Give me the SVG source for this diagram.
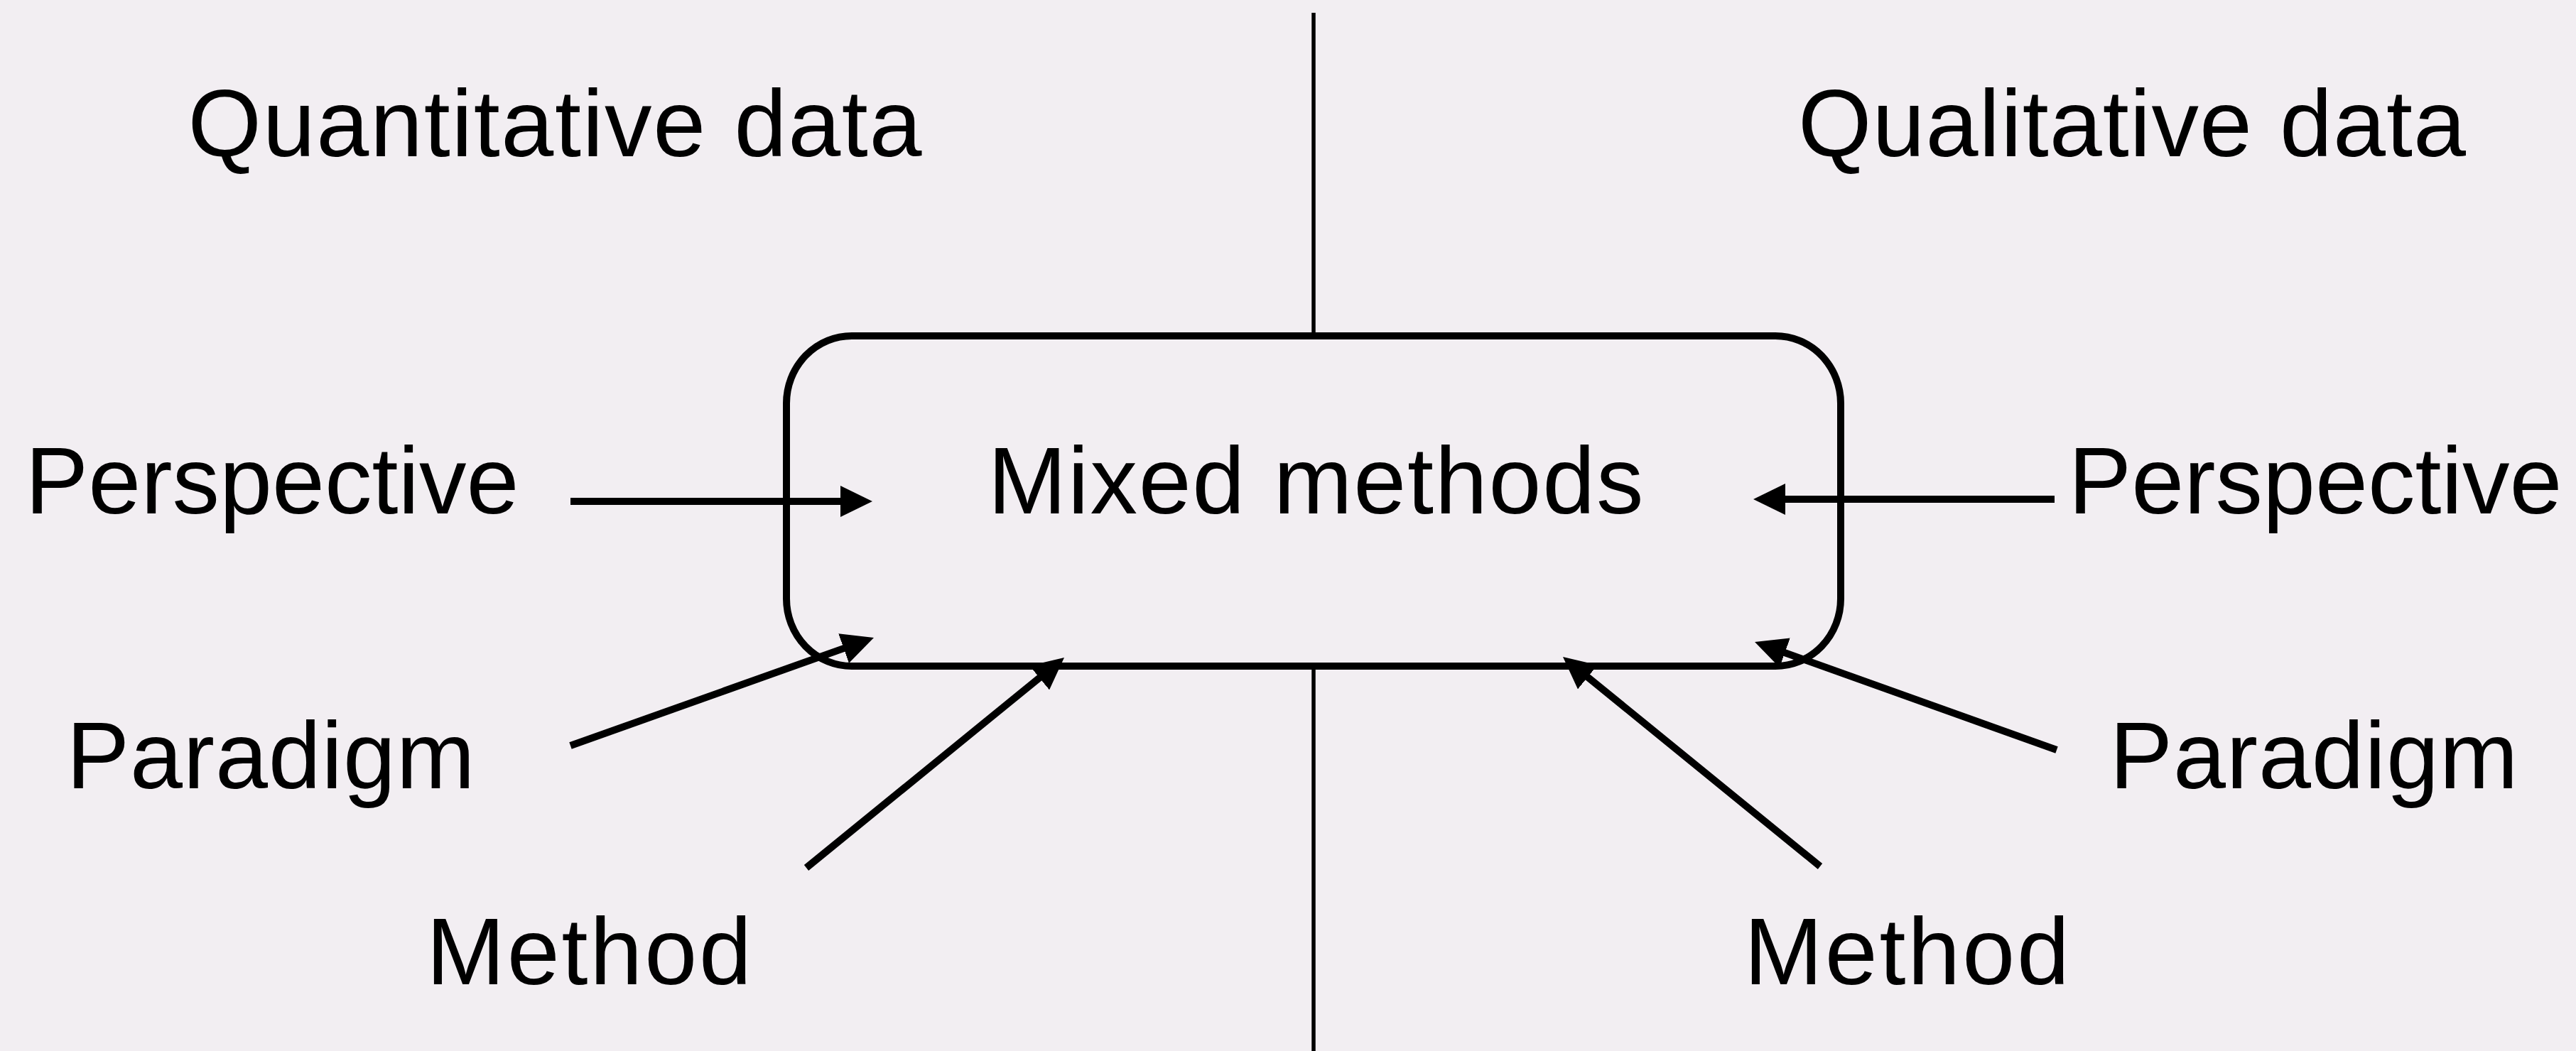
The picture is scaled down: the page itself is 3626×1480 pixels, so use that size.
<svg xmlns="http://www.w3.org/2000/svg" width="3626" height="1480" viewBox="0 0 3626 1480">
  <style>
    .bg { fill: #f2eef2; }
    .lbl { font-family: "Liberation Sans", Arial, sans-serif; font-size: 133px; fill: #000; text-anchor: middle; }
    .axis { stroke: #000; stroke-width: 5.5; fill: none; }
    .box { stroke: #000; stroke-width: 10; fill: #f2eef2; }
    .conn { stroke: #000; stroke-width: 10; fill: none; marker-end: url(#ah); }
  </style>
  <defs>
    <marker id="ah" markerUnits="userSpaceOnUse" viewBox="0 0 45 44" refX="5" refY="22" markerWidth="45" markerHeight="44" orient="auto">
      <path d="M0,0 L45,22 L0,44 Z" fill="#000"/>
    </marker>
  </defs>
  <rect class="bg" x="0" y="0" width="3626" height="1480"/>
  <line class="axis" x1="1849" y1="18" x2="1849" y2="1480"/>

  <g id="quantitative">
    <text class="lbl" x="781" y="220" textLength="1033">Quantitative data</text>
  </g>
  <g id="qualitative">
    <text class="lbl" x="3001" y="220" textLength="940">Qualitative data</text>
  </g>

  <g id="mixed-methods">
    <rect class="box" x="1107" y="473" width="1484" height="465" rx="92" ry="95"/>
    <text class="lbl" x="1852" y="723" textLength="923">Mixed methods</text>
  </g>

  <g id="perspective-left">
    <text class="lbl" x="383" y="723" textLength="695">Perspective</text>
  </g>
  <g id="paradigm-left">
    <text class="lbl" x="381" y="1110" textLength="575">Paradigm</text>
  </g>
  <g id="method-left">
    <text class="lbl" x="829" y="1386" textLength="458">Method</text>
  </g>
  <g id="perspective-right">
    <text class="lbl" x="3259" y="723" textLength="695">Perspective</text>
  </g>
  <g id="paradigm-right">
    <text class="lbl" x="3257" y="1110" textLength="575">Paradigm</text>
  </g>
  <g id="method-right">
    <text class="lbl" x="2684" y="1386" textLength="458">Method</text>
  </g>

  <g id="connectors">
    <line class="conn" x1="803" y1="706" x2="1188" y2="706"/>
    <line class="conn" x1="803" y1="1050" x2="1192.3" y2="911.4"/>
    <line class="conn" x1="1135" y1="1222" x2="1467" y2="951.3"/>
    <line class="conn" x1="2892" y1="703" x2="2508" y2="703"/>
    <line class="conn" x1="2895" y1="1056" x2="2507.7" y2="917.5"/>
    <line class="conn" x1="2562" y1="1220" x2="2231" y2="950.3"/>
  </g>
</svg>
